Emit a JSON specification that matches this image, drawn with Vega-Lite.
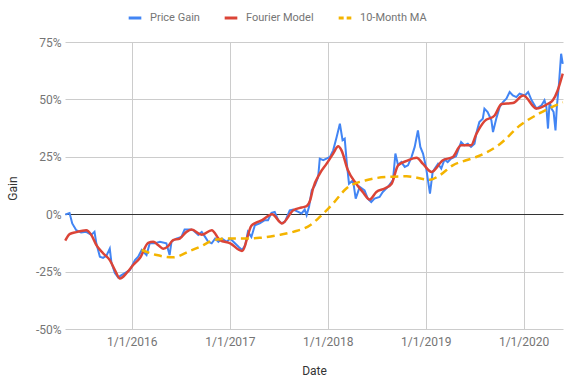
{
  "$schema": "https://vega.github.io/schema/vega-lite/v6.json",
  "width": 498,
  "height": 287,
  "autosize": {"type": "none"},
  "padding": {"left": 65, "top": 42, "right": 9, "bottom": 52},
  "background": "white",
  "config": {
    "view": {"stroke": null},
    "font": "Roboto",
    "axis": {
      "labelFont": "Roboto", "labelFontSize": 12, "labelColor": "#757575",
      "titleFont": "Roboto", "titleFontSize": 12, "titleFontWeight": "normal", "titleColor": "#333333",
      "domain": false, "ticks": false, "gridColor": "#cccccc", "gridWidth": 1
    }
  },
  "data": {
    "values": [
      {"date": "2015-04-28", "series": "Price Gain", "gain": 0.0},
      {"date": "2015-05-02", "series": "Price Gain", "gain": 0.0},
      {"date": "2015-05-14", "series": "Price Gain", "gain": 0.5},
      {"date": "2015-05-24", "series": "Price Gain", "gain": -4.0},
      {"date": "2015-06-08", "series": "Price Gain", "gain": -7.0},
      {"date": "2015-06-26", "series": "Price Gain", "gain": -8.0},
      {"date": "2015-07-15", "series": "Price Gain", "gain": -7.7},
      {"date": "2015-08-03", "series": "Price Gain", "gain": -9.0},
      {"date": "2015-08-15", "series": "Price Gain", "gain": -7.7},
      {"date": "2015-08-22", "series": "Price Gain", "gain": -12.8},
      {"date": "2015-09-04", "series": "Price Gain", "gain": -18.5},
      {"date": "2015-09-16", "series": "Price Gain", "gain": -19.0},
      {"date": "2015-09-29", "series": "Price Gain", "gain": -18.0},
      {"date": "2015-10-11", "series": "Price Gain", "gain": -15.0},
      {"date": "2015-10-17", "series": "Price Gain", "gain": -21.0},
      {"date": "2015-10-30", "series": "Price Gain", "gain": -25.6},
      {"date": "2015-11-11", "series": "Price Gain", "gain": -27.5},
      {"date": "2015-11-24", "series": "Price Gain", "gain": -26.5},
      {"date": "2015-12-06", "series": "Price Gain", "gain": -25.6},
      {"date": "2015-12-25", "series": "Price Gain", "gain": -24.3},
      {"date": "2016-01-13", "series": "Price Gain", "gain": -20.0},
      {"date": "2016-01-25", "series": "Price Gain", "gain": -18.5},
      {"date": "2016-02-07", "series": "Price Gain", "gain": -15.6},
      {"date": "2016-02-25", "series": "Price Gain", "gain": -17.8},
      {"date": "2016-03-08", "series": "Price Gain", "gain": -12.7},
      {"date": "2016-03-26", "series": "Price Gain", "gain": -12.7},
      {"date": "2016-04-15", "series": "Price Gain", "gain": -12.0},
      {"date": "2016-05-09", "series": "Price Gain", "gain": -12.7},
      {"date": "2016-05-21", "series": "Price Gain", "gain": -17.8},
      {"date": "2016-05-28", "series": "Price Gain", "gain": -12.0},
      {"date": "2016-06-15", "series": "Price Gain", "gain": -10.6},
      {"date": "2016-07-04", "series": "Price Gain", "gain": -9.9},
      {"date": "2016-07-16", "series": "Price Gain", "gain": -6.7},
      {"date": "2016-08-05", "series": "Price Gain", "gain": -6.7},
      {"date": "2016-08-17", "series": "Price Gain", "gain": -7.0},
      {"date": "2016-09-05", "series": "Price Gain", "gain": -9.0},
      {"date": "2016-09-18", "series": "Price Gain", "gain": -7.7},
      {"date": "2016-10-01", "series": "Price Gain", "gain": -10.0},
      {"date": "2016-10-12", "series": "Price Gain", "gain": -12.0},
      {"date": "2016-10-25", "series": "Price Gain", "gain": -12.7},
      {"date": "2016-11-07", "series": "Price Gain", "gain": -10.6},
      {"date": "2016-11-19", "series": "Price Gain", "gain": -12.0},
      {"date": "2016-12-02", "series": "Price Gain", "gain": -10.6},
      {"date": "2016-12-20", "series": "Price Gain", "gain": -12.0},
      {"date": "2017-01-02", "series": "Price Gain", "gain": -10.6},
      {"date": "2017-01-14", "series": "Price Gain", "gain": -12.0},
      {"date": "2017-02-02", "series": "Price Gain", "gain": -14.2},
      {"date": "2017-02-15", "series": "Price Gain", "gain": -15.6},
      {"date": "2017-02-27", "series": "Price Gain", "gain": -13.5},
      {"date": "2017-03-09", "series": "Price Gain", "gain": -7.7},
      {"date": "2017-03-22", "series": "Price Gain", "gain": -9.9},
      {"date": "2017-04-04", "series": "Price Gain", "gain": -4.8},
      {"date": "2017-04-22", "series": "Price Gain", "gain": -4.0},
      {"date": "2017-05-11", "series": "Price Gain", "gain": -2.6},
      {"date": "2017-05-23", "series": "Price Gain", "gain": -2.6},
      {"date": "2017-06-05", "series": "Price Gain", "gain": 0.6},
      {"date": "2017-06-17", "series": "Price Gain", "gain": 1.0},
      {"date": "2017-06-30", "series": "Price Gain", "gain": -2.6},
      {"date": "2017-07-12", "series": "Price Gain", "gain": -4.0},
      {"date": "2017-07-25", "series": "Price Gain", "gain": -3.3},
      {"date": "2017-08-12", "series": "Price Gain", "gain": 1.7},
      {"date": "2017-08-25", "series": "Price Gain", "gain": 2.0},
      {"date": "2017-09-13", "series": "Price Gain", "gain": 1.0},
      {"date": "2017-09-25", "series": "Price Gain", "gain": 0.3},
      {"date": "2017-10-07", "series": "Price Gain", "gain": 2.0},
      {"date": "2017-10-14", "series": "Price Gain", "gain": -0.4},
      {"date": "2017-10-23", "series": "Price Gain", "gain": 3.2},
      {"date": "2017-11-02", "series": "Price Gain", "gain": 10.4},
      {"date": "2017-11-14", "series": "Price Gain", "gain": 12.6},
      {"date": "2017-11-26", "series": "Price Gain", "gain": 16.2},
      {"date": "2017-12-02", "series": "Price Gain", "gain": 24.2},
      {"date": "2017-12-15", "series": "Price Gain", "gain": 23.5},
      {"date": "2017-12-27", "series": "Price Gain", "gain": 24.2},
      {"date": "2018-01-09", "series": "Price Gain", "gain": 24.9},
      {"date": "2018-01-21", "series": "Price Gain", "gain": 27.8},
      {"date": "2018-02-03", "series": "Price Gain", "gain": 33.6},
      {"date": "2018-02-15", "series": "Price Gain", "gain": 39.4},
      {"date": "2018-02-25", "series": "Price Gain", "gain": 32.2},
      {"date": "2018-03-05", "series": "Price Gain", "gain": 32.9},
      {"date": "2018-03-13", "series": "Price Gain", "gain": 22.0},
      {"date": "2018-03-21", "series": "Price Gain", "gain": 13.3},
      {"date": "2018-04-05", "series": "Price Gain", "gain": 14.8},
      {"date": "2018-04-15", "series": "Price Gain", "gain": 6.8},
      {"date": "2018-04-30", "series": "Price Gain", "gain": 11.9},
      {"date": "2018-05-18", "series": "Price Gain", "gain": 10.4},
      {"date": "2018-05-30", "series": "Price Gain", "gain": 6.8},
      {"date": "2018-06-12", "series": "Price Gain", "gain": 5.3},
      {"date": "2018-06-24", "series": "Price Gain", "gain": 6.8},
      {"date": "2018-07-13", "series": "Price Gain", "gain": 7.5},
      {"date": "2018-07-25", "series": "Price Gain", "gain": 9.7},
      {"date": "2018-08-13", "series": "Price Gain", "gain": 11.9},
      {"date": "2018-09-01", "series": "Price Gain", "gain": 14.8},
      {"date": "2018-09-10", "series": "Price Gain", "gain": 26.4},
      {"date": "2018-09-20", "series": "Price Gain", "gain": 21.3},
      {"date": "2018-10-02", "series": "Price Gain", "gain": 22.7},
      {"date": "2018-10-15", "series": "Price Gain", "gain": 20.6},
      {"date": "2018-10-27", "series": "Price Gain", "gain": 21.3},
      {"date": "2018-11-09", "series": "Price Gain", "gain": 24.9},
      {"date": "2018-11-21", "series": "Price Gain", "gain": 29.3},
      {"date": "2018-12-03", "series": "Price Gain", "gain": 36.5},
      {"date": "2018-12-12", "series": "Price Gain", "gain": 29.3},
      {"date": "2018-12-22", "series": "Price Gain", "gain": 26.4},
      {"date": "2019-01-02", "series": "Price Gain", "gain": 20.6},
      {"date": "2019-01-17", "series": "Price Gain", "gain": 9.0},
      {"date": "2019-01-27", "series": "Price Gain", "gain": 18.4},
      {"date": "2019-02-04", "series": "Price Gain", "gain": 19.9},
      {"date": "2019-02-16", "series": "Price Gain", "gain": 22.0},
      {"date": "2019-02-28", "series": "Price Gain", "gain": 19.9},
      {"date": "2019-03-12", "series": "Price Gain", "gain": 23.8},
      {"date": "2019-03-24", "series": "Price Gain", "gain": 22.7},
      {"date": "2019-04-06", "series": "Price Gain", "gain": 24.2},
      {"date": "2019-04-24", "series": "Price Gain", "gain": 25.2},
      {"date": "2019-05-13", "series": "Price Gain", "gain": 31.4},
      {"date": "2019-05-25", "series": "Price Gain", "gain": 30.0},
      {"date": "2019-06-07", "series": "Price Gain", "gain": 30.7},
      {"date": "2019-06-19", "series": "Price Gain", "gain": 29.3},
      {"date": "2019-07-02", "series": "Price Gain", "gain": 30.7},
      {"date": "2019-07-10", "series": "Price Gain", "gain": 35.8},
      {"date": "2019-07-20", "series": "Price Gain", "gain": 40.1},
      {"date": "2019-08-02", "series": "Price Gain", "gain": 41.6},
      {"date": "2019-08-08", "series": "Price Gain", "gain": 46.0},
      {"date": "2019-08-20", "series": "Price Gain", "gain": 44.5},
      {"date": "2019-09-03", "series": "Price Gain", "gain": 40.9},
      {"date": "2019-09-09", "series": "Price Gain", "gain": 35.8},
      {"date": "2019-09-21", "series": "Price Gain", "gain": 41.6},
      {"date": "2019-10-04", "series": "Price Gain", "gain": 46.7},
      {"date": "2019-10-16", "series": "Price Gain", "gain": 48.8},
      {"date": "2019-10-29", "series": "Price Gain", "gain": 50.3},
      {"date": "2019-11-10", "series": "Price Gain", "gain": 53.2},
      {"date": "2019-11-22", "series": "Price Gain", "gain": 51.7},
      {"date": "2019-12-05", "series": "Price Gain", "gain": 51.0},
      {"date": "2019-12-17", "series": "Price Gain", "gain": 52.5},
      {"date": "2020-01-06", "series": "Price Gain", "gain": 51.7},
      {"date": "2020-01-18", "series": "Price Gain", "gain": 53.2},
      {"date": "2020-01-31", "series": "Price Gain", "gain": 49.6},
      {"date": "2020-02-18", "series": "Price Gain", "gain": 46.0},
      {"date": "2020-03-08", "series": "Price Gain", "gain": 47.4},
      {"date": "2020-03-19", "series": "Price Gain", "gain": 49.6},
      {"date": "2020-03-26", "series": "Price Gain", "gain": 46.7},
      {"date": "2020-04-01", "series": "Price Gain", "gain": 37.3},
      {"date": "2020-04-07", "series": "Price Gain", "gain": 48.8},
      {"date": "2020-04-14", "series": "Price Gain", "gain": 46.0},
      {"date": "2020-04-22", "series": "Price Gain", "gain": 44.5},
      {"date": "2020-04-29", "series": "Price Gain", "gain": 36.5},
      {"date": "2020-05-04", "series": "Price Gain", "gain": 46.7},
      {"date": "2020-05-12", "series": "Price Gain", "gain": 56.8},
      {"date": "2020-05-20", "series": "Price Gain", "gain": 69.9},
      {"date": "2020-05-26", "series": "Price Gain", "gain": 65.5},

      {"date": "2015-04-28", "series": "Fourier Model", "gain": -11.5},
      {"date": "2015-05-02", "series": "Fourier Model", "gain": -10.6},
      {"date": "2015-05-14", "series": "Fourier Model", "gain": -8.7},
      {"date": "2015-06-08", "series": "Fourier Model", "gain": -7.8},
      {"date": "2015-07-15", "series": "Fourier Model", "gain": -7.0},
      {"date": "2015-08-03", "series": "Fourier Model", "gain": -9.0},
      {"date": "2015-08-22", "series": "Fourier Model", "gain": -13.5},
      {"date": "2015-09-16", "series": "Fourier Model", "gain": -17.0},
      {"date": "2015-10-11", "series": "Fourier Model", "gain": -20.0},
      {"date": "2015-10-30", "series": "Fourier Model", "gain": -24.3},
      {"date": "2015-11-18", "series": "Fourier Model", "gain": -28.0},
      {"date": "2015-12-13", "series": "Fourier Model", "gain": -25.6},
      {"date": "2016-01-07", "series": "Fourier Model", "gain": -22.0},
      {"date": "2016-02-01", "series": "Fourier Model", "gain": -19.0},
      {"date": "2016-03-02", "series": "Fourier Model", "gain": -12.5},
      {"date": "2016-03-21", "series": "Fourier Model", "gain": -12.0},
      {"date": "2016-04-09", "series": "Fourier Model", "gain": -13.5},
      {"date": "2016-04-27", "series": "Fourier Model", "gain": -15.0},
      {"date": "2016-05-15", "series": "Fourier Model", "gain": -14.0},
      {"date": "2016-06-03", "series": "Fourier Model", "gain": -11.3},
      {"date": "2016-06-28", "series": "Fourier Model", "gain": -10.6},
      {"date": "2016-07-23", "series": "Fourier Model", "gain": -7.7},
      {"date": "2016-08-11", "series": "Fourier Model", "gain": -6.7},
      {"date": "2016-09-18", "series": "Fourier Model", "gain": -9.0},
      {"date": "2016-10-25", "series": "Fourier Model", "gain": -7.0},
      {"date": "2016-11-25", "series": "Fourier Model", "gain": -11.3},
      {"date": "2017-01-02", "series": "Fourier Model", "gain": -12.7},
      {"date": "2017-02-15", "series": "Fourier Model", "gain": -16.0},
      {"date": "2017-03-22", "series": "Fourier Model", "gain": -5.0},
      {"date": "2017-04-07", "series": "Fourier Model", "gain": -3.8},
      {"date": "2017-05-01", "series": "Fourier Model", "gain": -2.6},
      {"date": "2017-06-07", "series": "Fourier Model", "gain": 0.0},
      {"date": "2017-07-14", "series": "Fourier Model", "gain": -4.0},
      {"date": "2017-08-25", "series": "Fourier Model", "gain": 1.7},
      {"date": "2017-09-25", "series": "Fourier Model", "gain": 2.9},
      {"date": "2017-10-14", "series": "Fourier Model", "gain": 3.5},
      {"date": "2017-10-27", "series": "Fourier Model", "gain": 6.0},
      {"date": "2017-11-07", "series": "Fourier Model", "gain": 11.2},
      {"date": "2017-12-02", "series": "Fourier Model", "gain": 17.7},
      {"date": "2017-12-27", "series": "Fourier Model", "gain": 21.9},
      {"date": "2018-01-21", "series": "Fourier Model", "gain": 26.4},
      {"date": "2018-02-09", "series": "Fourier Model", "gain": 29.6},
      {"date": "2018-02-21", "series": "Fourier Model", "gain": 27.8},
      {"date": "2018-03-17", "series": "Fourier Model", "gain": 19.1},
      {"date": "2018-04-17", "series": "Fourier Model", "gain": 13.3},
      {"date": "2018-05-11", "series": "Fourier Model", "gain": 9.7},
      {"date": "2018-06-06", "series": "Fourier Model", "gain": 6.4},
      {"date": "2018-07-01", "series": "Fourier Model", "gain": 9.7},
      {"date": "2018-08-01", "series": "Fourier Model", "gain": 11.2},
      {"date": "2018-08-27", "series": "Fourier Model", "gain": 13.3},
      {"date": "2018-09-20", "series": "Fourier Model", "gain": 21.3},
      {"date": "2018-10-22", "series": "Fourier Model", "gain": 23.2},
      {"date": "2018-11-28", "series": "Fourier Model", "gain": 24.6},
      {"date": "2018-12-22", "series": "Fourier Model", "gain": 21.9},
      {"date": "2019-01-23", "series": "Fourier Model", "gain": 18.4},
      {"date": "2019-03-06", "series": "Fourier Model", "gain": 23.5},
      {"date": "2019-04-12", "series": "Fourier Model", "gain": 24.9},
      {"date": "2019-05-13", "series": "Fourier Model", "gain": 30.0},
      {"date": "2019-06-19", "series": "Fourier Model", "gain": 30.0},
      {"date": "2019-07-09", "series": "Fourier Model", "gain": 35.0},
      {"date": "2019-08-08", "series": "Fourier Model", "gain": 40.5},
      {"date": "2019-09-15", "series": "Fourier Model", "gain": 43.0},
      {"date": "2019-10-11", "series": "Fourier Model", "gain": 48.0},
      {"date": "2019-11-22", "series": "Fourier Model", "gain": 48.4},
      {"date": "2019-12-31", "series": "Fourier Model", "gain": 51.7},
      {"date": "2020-02-18", "series": "Fourier Model", "gain": 46.0},
      {"date": "2020-04-01", "series": "Fourier Model", "gain": 48.1},
      {"date": "2020-04-19", "series": "Fourier Model", "gain": 49.6},
      {"date": "2020-05-07", "series": "Fourier Model", "gain": 53.9},
      {"date": "2020-05-26", "series": "Fourier Model", "gain": 61.2},

      {"date": "2016-02-07", "series": "10-Month MA", "gain": -15.6},
      {"date": "2016-04-03", "series": "10-Month MA", "gain": -17.8},
      {"date": "2016-06-03", "series": "10-Month MA", "gain": -18.8},
      {"date": "2016-08-05", "series": "10-Month MA", "gain": -16.0},
      {"date": "2016-09-11", "series": "10-Month MA", "gain": -14.2},
      {"date": "2016-11-01", "series": "10-Month MA", "gain": -11.3},
      {"date": "2016-12-20", "series": "10-Month MA", "gain": -10.6},
      {"date": "2017-02-27", "series": "10-Month MA", "gain": -10.6},
      {"date": "2017-04-22", "series": "10-Month MA", "gain": -10.3},
      {"date": "2017-07-06", "series": "10-Month MA", "gain": -9.0},
      {"date": "2017-08-25", "series": "10-Month MA", "gain": -7.7},
      {"date": "2017-10-27", "series": "10-Month MA", "gain": -4.8},
      {"date": "2017-12-02", "series": "10-Month MA", "gain": -1.2},
      {"date": "2018-01-21", "series": "10-Month MA", "gain": 4.7},
      {"date": "2018-03-11", "series": "10-Month MA", "gain": 11.2},
      {"date": "2018-05-24", "series": "10-Month MA", "gain": 14.8},
      {"date": "2018-08-07", "series": "10-Month MA", "gain": 16.2},
      {"date": "2018-10-22", "series": "10-Month MA", "gain": 16.5},
      {"date": "2019-01-17", "series": "10-Month MA", "gain": 15.0},
      {"date": "2019-02-23", "series": "10-Month MA", "gain": 17.0},
      {"date": "2019-04-12", "series": "10-Month MA", "gain": 21.3},
      {"date": "2019-06-01", "series": "10-Month MA", "gain": 23.5},
      {"date": "2019-07-08", "series": "10-Month MA", "gain": 24.9},
      {"date": "2019-10-04", "series": "10-Month MA", "gain": 30.5},
      {"date": "2019-12-17", "series": "10-Month MA", "gain": 38.5},
      {"date": "2020-03-01", "series": "10-Month MA", "gain": 44.0},
      {"date": "2020-05-26", "series": "10-Month MA", "gain": 48.8}
    ]
  },
  "encoding": {
    "x": {
      "field": "date", "type": "temporal",
      "scale": {"type": "utc", "domain": [{"year": 2015, "month": 4, "date": 27, "utc": true}, {"year": 2020, "month": 5, "date": 27, "utc": true}]},
      "axis": {
        "title": "Date",
        "values": [
          {"year": 2016, "month": 1, "date": 1, "utc": true},
          {"year": 2017, "month": 1, "date": 1, "utc": true},
          {"year": 2018, "month": 1, "date": 1, "utc": true},
          {"year": 2019, "month": 1, "date": 1, "utc": true},
          {"year": 2020, "month": 1, "date": 1, "utc": true}
        ],
        "labelExpr": "utcFormat(datum.value, '%-m/%-d/%Y')",
        "labelPadding": 7, "labelFlush": false,
        "titleY": 41, "titleBaseline": "middle"
      }
    },
    "y": {
      "field": "gain", "type": "quantitative",
      "scale": {"domain": [-50, 75], "nice": false},
      "axis": {
        "title": "Gain",
        "values": [-50, -25, 0, 25, 50, 75],
        "labelExpr": "datum.value + '%'",
        "labelPadding": 4,
        "titleX": -53, "titleY": 146, "titleBaseline": "middle", "titleAlign": "center",
        "gridColor": {"condition": {"test": "datum.value === 0", "value": "#333333"}, "value": "#cccccc"}
      }
    },
    "color": {
      "field": "series", "type": "nominal",
      "scale": {"domain": ["Price Gain", "Fourier Model", "10-Month MA"], "range": ["#4285F4", "#DB4437", "#F4B400"]},
      "legend": {
        "title": null, "orient": "none", "direction": "horizontal",
        "legendX": 62, "legendY": -32, "padding": 0,
        "labelFont": "Roboto", "labelFontSize": 11, "labelColor": "#757575",
        "symbolType": "stroke", "symbolSize": 160, "symbolStrokeWidth": 3,
        "labelOffset": 7, "columnPadding": 18,
        "encode": {"symbols": {"update": {"strokeDash": {"signal": "datum.value === '10-Month MA' ? [5, 3] : [1, 0]"}}}}
      }
    }
  },
  "layer": [
    {"transform": [{"filter": "datum.series === 'Price Gain'"}], "mark": {"type": "line", "strokeWidth": 2}},
    {"transform": [{"filter": "datum.series === 'Fourier Model'"}], "mark": {"type": "line", "strokeWidth": 2.5, "interpolate": "monotone"}},
    {"transform": [{"filter": "datum.series === '10-Month MA'"}], "mark": {"type": "line", "strokeWidth": 2.5, "strokeDash": [8, 5], "interpolate": "monotone"}}
  ]
}
